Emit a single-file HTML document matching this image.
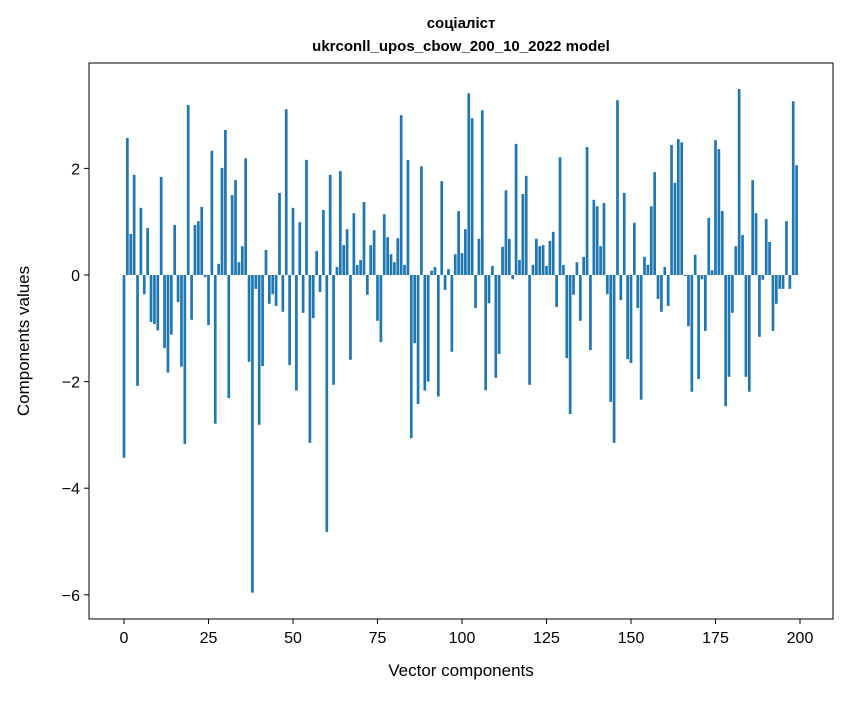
<!DOCTYPE html>
<html><head><meta charset="utf-8"><style>
body{margin:0;background:#fff}
text{font-family:"Liberation Sans","DejaVu Sans",sans-serif;fill:#000}
</style></head><body>
<svg id="chart" width="847" height="696" xmlns="http://www.w3.org/2000/svg">
<rect width="847" height="696" fill="#fff"/>
<text x="461" y="28" text-anchor="middle" font-size="15" font-weight="bold">соціаліст</text>
<text x="461" y="51" text-anchor="middle" font-size="15" font-weight="bold">ukrconll_upos_cbow_200_10_2022 model</text>
<g id="bars"></g>
<g id="axes"></g>
<text x="461" y="676" text-anchor="middle" font-size="17">Vector components</text>
<text transform="translate(29,341) rotate(-90)" text-anchor="middle" font-size="17">Components values</text>
</svg>
<script>
const values=[-3.43,2.57,0.77,1.88,-2.08,1.26,-0.36,0.88,-0.88,-0.92,-1.04,1.84,-1.37,-1.83,-1.12,0.94,-0.51,-1.72,-3.17,3.19,
-0.84,0.94,1.01,1.28,-0.04,-0.94,2.33,-2.79,0.21,2.01,2.72,-2.31,1.5,1.78,0.24,0.54,2.19,-1.63,-5.96,-0.26,
-2.81,-1.71,0.47,-0.54,-0.36,-0.58,1.54,-0.69,3.11,-1.69,1.26,-2.17,0.99,-0.71,2.16,-3.15,-0.81,0.45,-0.32,1.22,
-4.82,1.88,-2.06,0.15,1.95,0.56,0.86,-1.59,1.16,0.19,0.28,1.37,-0.37,0.56,0.84,-0.86,-1.26,1.14,0.71,0.39,
0.24,0.69,3.0,0.19,2.16,-3.06,-1.28,-2.42,2.04,-2.17,-2.0,0.08,0.15,-2.28,1.76,-0.28,0.11,-1.44,0.39,1.2,
0.41,0.86,3.41,2.94,-0.62,0.68,3.09,-2.16,-0.53,0.17,-1.93,-1.48,0.53,1.59,0.68,-0.08,2.46,0.28,1.52,1.86,
-2.06,0.19,0.68,0.54,0.56,0.17,0.64,0.81,-0.6,2.21,0.19,-1.56,-2.61,-0.37,0.24,-0.86,0.34,2.4,-1.41,1.41,
1.29,0.54,1.35,-0.36,-2.38,-3.15,3.28,-0.47,1.54,-1.58,-1.65,0.98,-0.62,-2.34,0.34,0.19,1.29,1.93,-0.45,-0.69,
0.15,-0.58,2.44,1.73,2.55,2.49,-0.02,-0.96,-2.19,0.38,-1.95,-0.08,-1.05,1.07,0.09,2.53,2.36,1.2,-2.46,-1.91,
-0.71,0.54,3.49,0.75,-1.91,-2.19,1.78,1.16,-1.16,-0.09,1.05,0.62,-1.05,-0.54,-0.26,-0.26,1.01,-0.26,3.26,2.06];
const xTicks=[0,25,50,75,100,125,150,175,200];
const yTicks=[-6,-4,-2,0,2];
const L=89,R=833,T=63,B=619;
const xs=v=>124+3.38*v;
const ys=v=>275-53.3*v;
const NS="http://www.w3.org/2000/svg";
const bars=document.getElementById('bars');
values.forEach((v,i)=>{
  const r=document.createElementNS(NS,'rect');
  
  
  const y0=ys(0),y1=ys(v);
  r.setAttribute('x',xs(i)-1.35);r.setAttribute('width',2.7);
  r.setAttribute('y',Math.min(y0,y1));r.setAttribute('height',Math.abs(y1-y0));
  r.setAttribute('fill','#1f77b4');
  bars.appendChild(r);
});
const ax=document.getElementById('axes');
const frame=document.createElementNS(NS,'rect');


frame.setAttribute('x',L);frame.setAttribute('y',T);frame.setAttribute('width',R-L);frame.setAttribute('height',B-T);
frame.setAttribute('fill','none');frame.setAttribute('stroke','#000');frame.setAttribute('stroke-width','1');
ax.appendChild(frame);
xTicks.forEach(t=>{
  const l=document.createElementNS(NS,'line');
  
  
  l.setAttribute('x1',xs(t));l.setAttribute('x2',xs(t));l.setAttribute('y1',B);l.setAttribute('y2',B+5);l.setAttribute('stroke','#000');
  ax.appendChild(l);
  const tx=document.createElementNS(NS,'text');
  
  
  tx.setAttribute('x',xs(t));tx.setAttribute('y',B+24);tx.setAttribute('text-anchor','middle');tx.setAttribute('font-size','16');
  tx.textContent=t;ax.appendChild(tx);
});
yTicks.forEach(t=>{
  const l=document.createElementNS(NS,'line');
  
  
  l.setAttribute('x1',L-5);l.setAttribute('x2',L);l.setAttribute('y1',ys(t));l.setAttribute('y2',ys(t));l.setAttribute('stroke','#000');
  ax.appendChild(l);
  const tx=document.createElementNS(NS,'text');
  
  
  tx.setAttribute('x',L-9);tx.setAttribute('y',ys(t)+6);tx.setAttribute('text-anchor','end');tx.setAttribute('font-size','16');
  tx.textContent=t<0?'\u2212'+Math.abs(t):t;ax.appendChild(tx);
});
</script>
</body></html>
